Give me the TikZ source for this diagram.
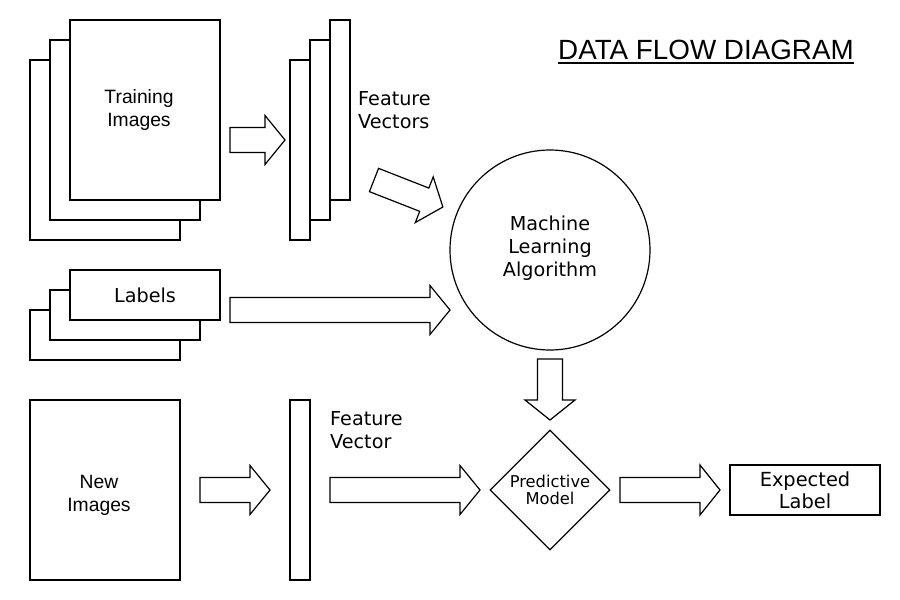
\documentclass[tikz,border=0pt]{standalone}
\usepackage{fontspec}
\setmainfont{Liberation Sans}
\newfontfamily\dejavu{DejaVu Sans}
\usetikzlibrary{shapes.geometric}
\tikzset{
  box/.style={draw=black, fill=white, line width=1.2pt, inner sep=0pt},
  arrowbox/.style={draw=black, fill=white, line width=1.2pt, line join=miter},
  arial/.style={font=\fontsize{19.3}{23}\selectfont, align=center, inner sep=0pt},
  dv/.style={font=\dejavu\fontsize{19.2}{23}\selectfont, inner sep=0pt},
}
\newcommand{\blockarrow}[7]{% x, y, angle, length, half body, half head, head length
  \begin{scope}[shift={(#1,#2)}, rotate=#3]
    \draw[arrowbox] (0,-#5) -- ({#4-#7},-#5) -- ({#4-#7},-#6) -- (#4,0)
      -- ({#4-#7},#6) -- ({#4-#7},#5) -- (0,#5) -- cycle;
  \end{scope}}
\begin{document}
\begin{tikzpicture}[x=1pt,y=-1pt]
\useasboundingbox[fill=white] (0,0) rectangle (900,600);

% Training images stack
\node[box, minimum width=150pt, minimum height=180pt] (ti3) at (105,150) {};
\node[box, minimum width=150pt, minimum height=180pt] (ti2) at (125,130) {};
\node[box, minimum width=150pt, minimum height=180pt] (ti1) at (145,110) {};
\node[arial] (titxt) at (139,110) {Training\\Images};

% Feature vectors stack
\node[box, minimum width=20pt, minimum height=180pt] (fv3) at (300,150) {};
\node[box, minimum width=20pt, minimum height=180pt] (fv2) at (320,130) {};
\node[box, minimum width=20pt, minimum height=180pt] (fv1) at (340,110) {};
\node[dv, align=left, anchor=west] (fvtxt) at (358,110) {Feature\\Vectors};

% Labels stack
\node[box, minimum width=150pt, minimum height=50pt] (lb3) at (105,335) {};
\node[box, minimum width=150pt, minimum height=50pt] (lb2) at (125,315) {};
\node[box, minimum width=150pt, minimum height=50pt] (lb1) at (145,295) {};
\node[dv] (lbtxt) at (145,295) {Labels};

% Machine learning algorithm
\node[box, circle, minimum size=200pt] (mla) at (550,250) {};
\node[dv, align=center] (mlatxt) at (550,248) {Machine\\Learning\\Algorithm};

% New images
\node[box, minimum width=150pt, minimum height=180pt] (ni) at (105,490) {};
\node[arial] (nitxt) at (99,495) {New\\Images};

% Feature vector
\node[box, minimum width=20pt, minimum height=180pt] (fv) at (300,490) {};
\node[dv, align=left, anchor=west] (fvsing) at (330,430) {Feature\\Vector};

% Predictive model
\node[box, diamond, minimum width=120pt, minimum height=120pt, aspect=1] (pm) at (550,490) {};
\node[font=\dejavu\fontsize{16.3}{17}\selectfont, align=center, inner sep=0pt] (pmtxt) at (550,490) {Predictive\\Model};

% Expected label
\node[box, minimum width=150pt, minimum height=50pt] (el) at (805,490) {};
\node[dv, align=center, font=\dejavu\fontsize{19.4}{22}\selectfont] (eltxt) at (805,490) {Expected\\Label};

% Title
\node[font=\fontsize{27.8}{32}\selectfont, inner sep=0pt, anchor=base west] (title) at (558,59) {DATA FLOW DIAGRAM};
\draw[line width=2.4pt] ([yshift=-4pt]title.base west) -- ([yshift=-4pt]title.base east);

% Block arrows
\blockarrow{230}{140}{0}{55}{12.5}{24.5}{20}
\blockarrow{374}{180}{-21.4}{74}{12.5}{24.5}{20}
\blockarrow{230}{310}{0}{220}{12.5}{24.5}{20}
\blockarrow{550}{359}{-90}{61}{12.5}{25}{20}
\blockarrow{200}{490}{0}{70}{12.5}{24.5}{20}
\blockarrow{330}{490}{0}{150}{12.5}{24.5}{20}
\blockarrow{620}{490}{0}{100}{12.5}{25}{20}
\end{tikzpicture}
\end{document}
